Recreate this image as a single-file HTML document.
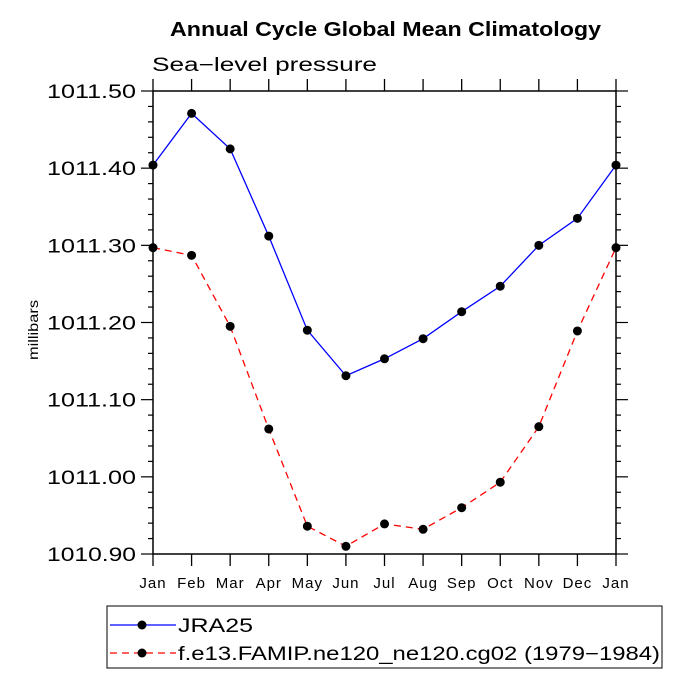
<!DOCTYPE html>
<html><head><meta charset="utf-8"><style>body{margin:0;background:#fff}svg{display:block}</style></head>
<body>
<svg id="chart" width="689" height="689" xmlns="http://www.w3.org/2000/svg" font-family="'Liberation Sans', sans-serif">
<text x="170" y="36" font-size="20" font-weight="bold" textLength="431" lengthAdjust="spacingAndGlyphs">Annual Cycle Global Mean Climatology</text>
<text x="152" y="71" font-size="19" textLength="225" lengthAdjust="spacingAndGlyphs">Sea−level pressure</text>
<text transform="translate(38,330) rotate(-90)" text-anchor="middle" font-size="14" textLength="60" lengthAdjust="spacingAndGlyphs">millibars</text>
<g id="axes"></g>
<g id="series"></g>
<g>
<rect x="107" y="606" width="555" height="62" fill="none" stroke="#000" stroke-width="1"/>
<line x1="110" y1="625" x2="176" y2="625" stroke="#00f" stroke-width="1.3"/>
<circle cx="142" cy="625" r="4.5"/>
<text x="178" y="632" font-size="19" textLength="75" lengthAdjust="spacingAndGlyphs">JRA25</text>
<line x1="110" y1="653" x2="176" y2="653" stroke="#f00" stroke-width="1.3" stroke-dasharray="7,5"/>
<circle cx="142" cy="653" r="4.5"/>
<text x="178" y="660" font-size="19" textLength="482" lengthAdjust="spacingAndGlyphs">f.e13.FAMIP.ne120_ne120.cg02 (1979−1984)</text>
</g>
</svg>
<script>
const months = ["Jan","Feb","Mar","Apr","May","Jun","Jul","Aug","Sep","Oct","Nov","Dec","Jan"];
const jra25 = [1011.404,1011.471,1011.425,1011.312,1011.190,1011.131,1011.153,1011.179,1011.214,1011.247,1011.300,1011.335,1011.404];
const model = [1011.297,1011.287,1011.195,1011.062,1010.936,1010.910,1010.939,1010.932,1010.960,1010.993,1011.065,1011.189,1011.297];
const yTicks = ["1010.90","1011.00","1011.10","1011.20","1011.30","1011.40","1011.50"];
const L=153,R=616,T=91,B=554,ymin=1010.9,ymax=1011.5;
const NS="http://www.w3.org/2000/svg";
const xs=i=>L+(R-L)*i/(months.length-1);
const ys=v=>B-(B-T)*(v-ymin)/(ymax-ymin);
function mk(tag,attrs,parent){const e=document.createElementNS(NS,tag);for(const k in attrs)e.setAttribute(k,attrs[k]);parent.appendChild(e);return e;}
const ax=document.getElementById('axes');
const frame=mk('rect',{x:L,y:T,width:R-L,height:B-T,fill:'none',stroke:'#000','stroke-width':1.5},ax);


months.forEach((m,i)=>{
  const x=xs(i);
  mk('line',{x1:x,y1:B,x2:x,y2:B+12,stroke:'#000','stroke-width':1.3},ax);
  mk('line',{x1:x,y1:T,x2:x,y2:T-12,stroke:'#000','stroke-width':1.3},ax);
  const t=mk('text',{x:x,y:B+34,'text-anchor':'middle','font-size':15,'letter-spacing':1},ax);
  t.textContent=m;
  
  
});
for(let k=0;k<=30;k++){
  const v=ymin+k*0.02,y=ys(v),major=k%5===0,len=major?12:5;
  mk('line',{x1:L,y1:y,x2:L-len,y2:y,stroke:'#000','stroke-width':1.2},ax);
  mk('line',{x1:R,y1:y,x2:R+len,y2:y,stroke:'#000','stroke-width':1.2},ax);
}
yTicks.forEach(s=>{
  const t=mk('text',{x:47,y:ys(parseFloat(s))+7,'font-size':19,textLength:89,lengthAdjust:'spacingAndGlyphs'},ax);
  t.textContent=s;
  
  
});
const sg=document.getElementById('series');
function draw(vals,color,dash,name){
  const p=mk('polyline',{points:vals.map((v,i)=>xs(i)+','+ys(v)).join(' '),fill:'none',stroke:color,'stroke-width':1.3,'stroke-dasharray':dash},sg);
  
  
  vals.forEach((v,i)=>{
    const c=mk('circle',{cx:xs(i),cy:ys(v),r:4.5,fill:'#000'},sg);
    
    
  });
}
draw(jra25,'#00f','none','jra25');
draw(model,'#f00','7,5','model');
</script>
</body></html>
